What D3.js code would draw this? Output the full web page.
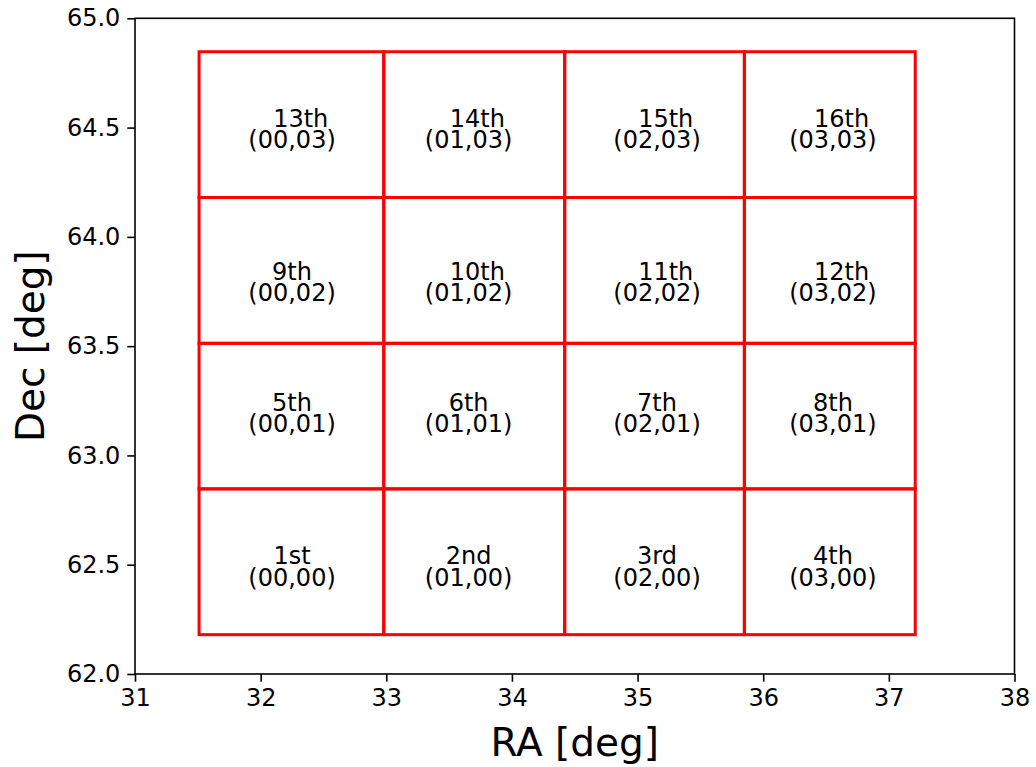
<!DOCTYPE html>
<html>
<head>
<meta charset="utf-8">
<script src="https://cdn.jsdelivr.net/npm/d3@7"></script>
<style>
  body { margin: 0; background: #fff; }
  text { font-family: "DejaVu Sans", sans-serif; fill: #000; }
</style>
</head>
<body>
<svg id="chart" width="1036" height="767"></svg>
<script>
// tile edges
const raEdges = [31.51, 32.98, 34.42, 35.85, 37.21];
const decEdges = [62.18, 62.847, 63.513, 64.18, 64.847];
// where each label sits (text baseline), per column / row
const labelRa = [32.25, 33.655, 35.155, 36.555];
const labelDec = [62.504, 63.205, 63.804, 64.504];
const ordinals = ["1st", "2nd", "3rd", "4th", "5th", "6th", "7th", "8th",
  "9th", "10th", "11th", "12th", "13th", "14th", "15th", "16th"];
const xTicks = [31, 32, 33, 34, 35, 36, 37, 38];
const yTicks = [62.0, 62.5, 63.0, 63.5, 64.0, 64.5, 65.0];

const margin = { left: 135, right: 1014.5, top: 18.3, bottom: 674 };
const TICK = 7.7;

const svg = d3.select("#chart");

const x = d3.scaleLinear().domain([31, 38]).range([margin.left, margin.right]);
const y = d3.scaleLinear().domain([62, 65]).range([margin.bottom, margin.top]);

// build the 16 tiles, row by row from the bottom
const cells = [];
for (let j = 0; j < decEdges.length - 1; j++) {
  for (let i = 0; i < raEdges.length - 1; i++) {
    cells.push({
      ra0: raEdges[i], ra1: raEdges[i + 1],
      dec0: decEdges[j], dec1: decEdges[j + 1],
      lra: labelRa[i], ldec: labelDec[j],
      name: ordinals[j * 4 + i],
      idx: `(${String(i).padStart(2, "0")},${String(j).padStart(2, "0")})`,
    });
  }
}

const tiles = svg.append("g").attr("class", "tiles");

tiles.selectAll("rect")
  .data(cells)
  .join("rect")
  .attr("x", (d) => x(d.ra0))
  .attr("y", (d) => y(d.dec1))
  .attr("width", (d) => x(d.ra1) - x(d.ra0))
  .attr("height", (d) => y(d.dec0) - y(d.dec1))
  .attr("fill", "none")
  .attr("stroke", "#ff0000")
  .attr("stroke-width", 3);

const labels = tiles.selectAll("text")
  .data(cells)
  .join("text")
  .attr("text-anchor", "middle")
  .attr("font-size", 24)
  .attr("x", (d) => x(d.lra))
  .attr("y", (d) => y(d.ldec));

// two-digit ordinals sit a little to the right in the original
labels.append("tspan")
  .attr("x", (d) => x(d.lra) + (d.name.length > 3 ? 8.7 : 0))
  .text((d) => d.name);

labels.append("tspan")
  .attr("x", (d) => x(d.lra))
  .attr("dy", 21.7)
  .text((d) => d.idx);

// axes
const xAxis = svg.append("g")
  .attr("transform", `translate(0,${margin.bottom})`)
  .call(d3.axisBottom(x).tickValues(xTicks).tickFormat(d3.format("d"))
    .tickSize(TICK).tickPadding(7));

const yAxis = svg.append("g")
  .attr("transform", `translate(${margin.left},0)`)
  .call(d3.axisLeft(y).tickValues(yTicks).tickFormat(d3.format(".1f"))
    .tickSize(TICK).tickPadding(7));

[xAxis, yAxis].forEach((g) => {
  g.select(".domain").remove();
  g.selectAll(".tick line").attr("stroke", "#000").attr("stroke-width", 1.6);
  g.selectAll(".tick text")
    .attr("font-size", 24)
    .attr("font-family", "DejaVu Sans, sans-serif")
    .attr("fill", "#000");
});

// frame
svg.append("rect")
  .attr("x", margin.left)
  .attr("y", margin.top)
  .attr("width", margin.right - margin.left)
  .attr("height", margin.bottom - margin.top)
  .attr("fill", "none")
  .attr("stroke", "#000")
  .attr("stroke-width", 1.6);

svg.append("text")
  .attr("x", (margin.left + margin.right) / 2)
  .attr("y", 756)
  .attr("text-anchor", "middle")
  .attr("font-size", 39)
  .text("RA [deg]");

svg.append("text")
  .attr("transform", `translate(44,${(margin.top + margin.bottom) / 2}) rotate(-90)`)
  .attr("text-anchor", "middle")
  .attr("font-size", 39)
  .text("Dec [deg]");
</script>
</body>
</html>
